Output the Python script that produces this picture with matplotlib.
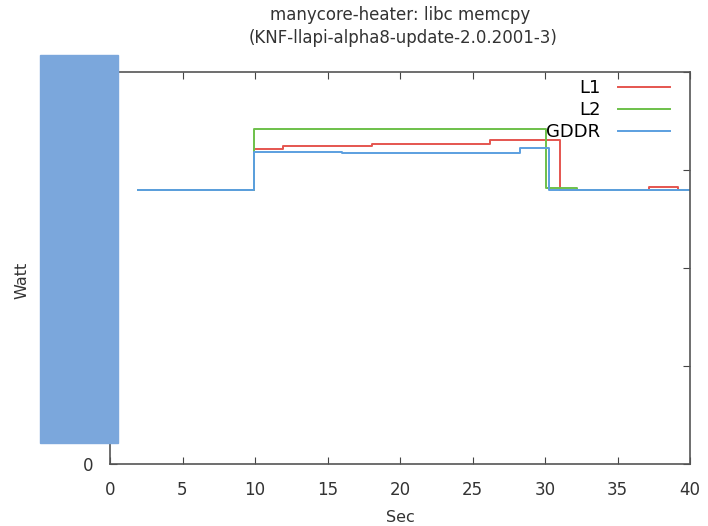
import matplotlib.pyplot as plt
from matplotlib.patches import Rectangle

# step data (time in sec, watt)
l1_t = [1.9, 9.9, 11.9, 18.1, 26.2, 31.0, 37.2, 39.2, 40.0]
l1_w = [140, 160.5, 162.3, 163.4, 165.4, 140, 141.2, 140, 140]

l2_t = [1.9, 9.9, 30.1, 32.2, 40.0]
l2_w = [140, 171, 140.6, 140, 140]

gddr_t = [1.9, 9.9, 16.0, 28.3, 30.3, 40.0]
gddr_w = [140, 159, 158.5, 161, 140, 140]

fig = plt.figure(figsize=(7.08, 5.26), dpi=100)
ax = fig.add_axes([110 / 708, 1 - 464 / 526, 580 / 708, 392 / 526])

ax.plot(l1_t, l1_w, drawstyle='steps-post', color='#e5554f', lw=1.4, label='L1')
ax.plot(l2_t, l2_w, drawstyle='steps-post', color='#6cc04a', lw=1.4, label='L2')
ax.plot(gddr_t, gddr_w, drawstyle='steps-post', color='#5b9fe0', lw=1.4, label='GDDR')

ax.set_xlim(0, 40)
ax.set_ylim(0, 200)
ax.set_xticks(range(0, 41, 5))
ax.set_yticks([0, 50, 100, 150, 200])
ax.set_yticklabels(['0', '', '', '', ''])
ax.tick_params(direction='in', top=True, right=True, length=5, color='#444444',
               labelsize=12, labelcolor='#333333', pad=12)
for s in ax.spines.values():
    s.set_color('#555555')
    s.set_linewidth(1.2)

ax.set_xlabel('Sec', fontsize=11.5, color='#333333', labelpad=8)
fig.text(22 / 708, 1 - 280 / 526, 'Watt', rotation=90, ha='center', va='center',
         fontsize=11.5, color='#333333')
fig.text(400 / 708, 1 - 15 / 526, 'manycore-heater: libc memcpy', ha='center', va='center',
         fontsize=12, color='#333333')
fig.text(403 / 708, 1 - 38 / 526, '(KNF-llapi-alpha8-update-2.0.2001-3)', ha='center',
         va='center', fontsize=12, color='#333333')

ax.legend(loc='upper right', bbox_to_anchor=(670 / 708, 1 - 79 / 526),
          bbox_transform=fig.transFigure, frameon=False, markerfirst=False, fontsize=13,
          handlelength=2.9, labelspacing=0.22, borderaxespad=0, borderpad=0,
          handletextpad=0.95)

# redaction block over the y-axis
fig.patches.append(Rectangle((40 / 708, 1 - 443 / 526), 78 / 708, 388 / 526,
                             transform=fig.transFigure, color='#7ba7dc', zorder=10))

fig.savefig('out.png')
